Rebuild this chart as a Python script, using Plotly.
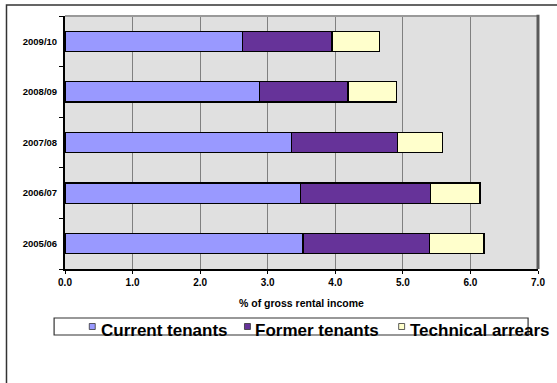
import plotly.graph_objects as go

# Arrears by financial year, % of gross rental income
years = ["2005/06", "2006/07", "2007/08", "2008/09", "2009/10"]
current_tenants = [3.52, 3.49, 3.35, 2.88, 2.63]
former_tenants = [1.87, 1.92, 1.57, 1.31, 1.32]
technical_arrears = [0.81, 0.73, 0.67, 0.72, 0.70]

series_names = ["Current tenants", "Former tenants", "Technical arrears"]
series_values = [current_tenants, former_tenants, technical_arrears]
series_colors = ["#9999FF", "#663399", "#FFFFCC"]

x_ticks = [0, 1, 2, 3, 4, 5, 6, 7]
x_tick_text = [f"{v:.1f}" for v in x_ticks]

W, H = 557, 383
ML, MR, MT, MB = 65, 15, 16, 114
PW, PH = W - ML - MR, H - MT - MB
FONT = "Arial, Liberation Sans, sans-serif"


def px(xp):
    return (xp - ML) / PW


def py(yp):
    return (H - MB - yp) / PH


fig = go.Figure()
for name, vals, col in zip(series_names, series_values, series_colors):
    fig.add_trace(go.Bar(
        y=years, x=vals, name=name, orientation="h", width=0.4,
        marker=dict(color=col, line=dict(color="#000000", width=1.3)),
        showlegend=False,
    ))

shapes = []
# outer chart border
shapes.append(dict(type="rect", xref="paper", yref="paper",
                   x0=px(6), x1=px(W + 20), y0=py(H + 20), y1=py(5),
                   line=dict(color="#333333", width=1.5), layer="below"))
# plot area top and right edges
shapes.append(dict(type="line", xref="paper", yref="paper",
                   x0=0, x1=1, y0=1, y1=1,
                   line=dict(color="#9A9A9A", width=2)))
shapes.append(dict(type="line", xref="paper", yref="paper",
                   x0=1, x1=1, y0=0, y1=1.005,
                   line=dict(color="#5A5A5A", width=3)))

# legend box
shapes.append(dict(type="rect", xref="paper", yref="paper",
                   x0=px(54), x1=px(532), y0=py(335), y1=py(318),
                   line=dict(color="#333333", width=1.2), fillcolor="white"))

annotations = []
legend_swatch_x = [89.5, 246, 401.5]
legend_text_x = [99, 254.5, 410.5]
for name, col, sx, tx in zip(series_names, series_colors, legend_swatch_x, legend_text_x):
    shapes.append(dict(type="rect", xref="paper", yref="paper",
                       x0=px(sx), x1=px(sx + 6), y0=py(329.5), y1=py(323.5),
                       line=dict(color="#333333", width=0.8), fillcolor=col))
    annotations.append(dict(text=name, xref="paper", yref="paper",
                            x=px(tx), y=py(330.5), xanchor="left", yanchor="middle",
                            showarrow=False,
                            font=dict(family=FONT, size=17, color="#000000", weight="bold")))

# x-axis title
annotations.append(dict(text="% of gross rental income", xref="paper", yref="paper",
                        x=0.5, y=py(302.5), xanchor="center", yanchor="middle",
                        showarrow=False,
                        font=dict(family=FONT, size=10.5, color="#000000", weight="bold")))

fig.update_layout(
    barmode="stack",
    width=W, height=H,
    margin=dict(l=ML, r=MR, t=MT, b=MB, pad=0),
    paper_bgcolor="white",
    plot_bgcolor="#E0E0E0",
    shapes=shapes,
    annotations=annotations,
    xaxis=dict(
        range=[0, 7], tickvals=x_ticks, ticktext=x_tick_text,
        showgrid=True, gridcolor="#808080", gridwidth=1,
        showline=True, linecolor="#000000", linewidth=2,
        ticks="outside", ticklen=3, tickcolor="#000000",
        tickfont=dict(family=FONT, size=10, color="#000000", weight="bold"),
        zeroline=False, fixedrange=True,
    ),
    yaxis=dict(
        type="category", categoryorder="array", categoryarray=years,
        range=[-0.5, 4.5], tickson="boundaries",
        showgrid=False,
        showline=True, linecolor="#000000", linewidth=2,
        ticks="outside", ticklen=4, tickcolor="#000000",
        tickfont=dict(family=FONT, size=9.5, color="#000000", weight="bold"),
        ticklabelstandoff=4,
        zeroline=False, fixedrange=True,
    ),
)

fig.write_html("out.html")
